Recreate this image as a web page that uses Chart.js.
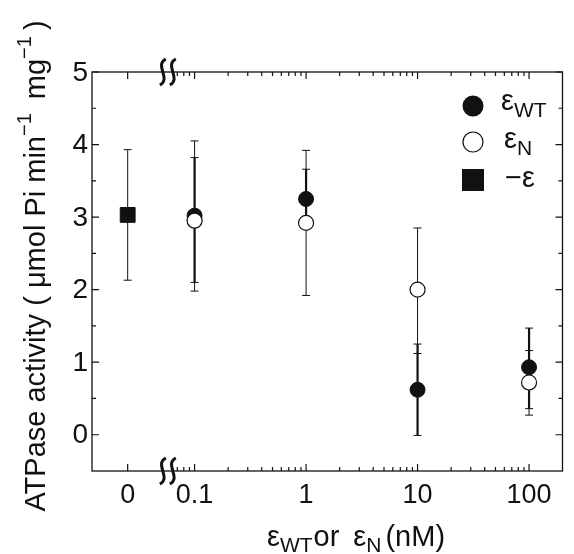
<!DOCTYPE html>
<html>
<head>
<meta charset="utf-8">
<script src="https://cdn.jsdelivr.net/npm/chart.js@4"></script>
<style>
  html, body { margin: 0; padding: 0; background: #fff; }
  canvas { display: block; }
</style>
</head>
<body>
<canvas id="myChart" width="574" height="554"></canvas>
<script>
// concentrations in nM, 0 means no epsilon added
const wtConc = [0.1, 1, 10, 100];
const wtMean = [3.02, 3.25, 0.62, 0.93];
const wtLow = [2.10, 2.84, -0.01, 0.36];
const wtHigh = [3.82, 3.66, 1.25, 1.47];

const nConc = [0.1, 1, 10, 100];
const nMean = [2.95, 2.92, 2.00, 0.72];
const nLow = [1.98, 1.92, 1.12, 0.27];
const nHigh = [4.05, 3.92, 2.85, 1.16];

const noEpsConc = [0];
const noEpsMean = [3.03];
const noEpsLow = [2.13];
const noEpsHigh = [3.93];

const xTickValues = [0, 0.1, 1, 10, 100];
const xTickLabels = ['0', '0.1', '1', '10', '100'];
const xMinorValues = [0.07, 0.08, 0.09,
    0.2, 0.3, 0.4, 0.5, 0.6, 0.7, 0.8, 0.9,
    2, 3, 4, 5, 6, 7, 8, 9,
    20, 30, 40, 50, 60, 70, 80, 90];
const yTickValues = [0, 1, 2, 3, 4, 5];
const yMinorValues = [0.5, 1.5, 2.5, 3.5, 4.5];

const ZERO_POS = -1.6;   // where "0" sits on the log axis
const BREAK_POS = -1.24;
const INK = '#111';
const FONT = '"Liberation Sans", Arial, Helvetica, sans-serif';

function toAxis(c) {
    return c === 0 ? ZERO_POS : Math.log10(c);
}

function points(conc, vals) {
    return conc.map((c, i) => ({ x: toAxis(c), y: vals[i] }));
}

const errorBars = [
    { conc: noEpsConc, low: noEpsLow, high: noEpsHigh, width: 1 },
    { conc: nConc, low: nLow, high: nHigh, width: 1 },
    { conc: wtConc, low: wtLow, high: wtHigh, width: 2.2 }
];

function drawText(ctx, parts, x, y) {
    // parts: [text, size, dy]
    parts.forEach(p => {
        ctx.font = p[1] + 'px ' + FONT;
        ctx.fillText(p[0], x, y + (p[2] || 0));
        x += ctx.measureText(p[0]).width + (p[3] || 0);
    });
    return x;
}

function textWidth(ctx, parts) {
    let w = 0;
    parts.forEach(p => {
        ctx.font = p[1] + 'px ' + FONT;
        w += ctx.measureText(p[0]).width + (p[3] || 0);
    });
    return w;
}

const errorBarPlugin = {
    id: 'errorBars',
    beforeDatasetsDraw(chart) {
        const ctx = chart.ctx;
        const xs = chart.scales.x, ys = chart.scales.y;
        ctx.save();
        ctx.strokeStyle = INK;
        errorBars.forEach(set => {
            set.conc.forEach((c, i) => {
                const px = xs.getPixelForValue(toAxis(c));
                const top = ys.getPixelForValue(set.high[i]);
                const bot = ys.getPixelForValue(set.low[i]);
                ctx.lineWidth = set.width;
                ctx.beginPath();
                ctx.moveTo(px, top);
                ctx.lineTo(px, bot);
                ctx.stroke();
                ctx.lineWidth = 1;
                ctx.beginPath();
                ctx.moveTo(px - 4, top); ctx.lineTo(px + 4, top);
                ctx.moveTo(px - 4, bot); ctx.lineTo(px + 4, bot);
                ctx.stroke();
            });
        });
        ctx.restore();
    }
};

const framePlugin = {
    id: 'frame',
    afterDraw(chart) {
        const ctx = chart.ctx;
        const a = chart.chartArea;
        const xs = chart.scales.x, ys = chart.scales.y;
        ctx.save();
        ctx.strokeStyle = INK;
        ctx.fillStyle = INK;

        ctx.lineWidth = 1.3;
        ctx.strokeRect(a.left, a.top, a.right - a.left, a.bottom - a.top);

        ctx.lineWidth = 1.2;
        ctx.beginPath();
        yTickValues.forEach(v => {
            const py = ys.getPixelForValue(v);
            ctx.moveTo(a.left, py); ctx.lineTo(a.left + 7, py);
            ctx.moveTo(a.right, py); ctx.lineTo(a.right - 7, py);
        });
        yMinorValues.forEach(v => {
            const py = ys.getPixelForValue(v);
            ctx.moveTo(a.left, py); ctx.lineTo(a.left + 4, py);
            ctx.moveTo(a.right, py); ctx.lineTo(a.right - 4, py);
        });
        xTickValues.forEach(v => {
            const px = xs.getPixelForValue(toAxis(v));
            ctx.moveTo(px, a.bottom); ctx.lineTo(px, a.bottom - 7);
            ctx.moveTo(px, a.top); ctx.lineTo(px, a.top + 7);
        });
        xMinorValues.forEach(v => {
            const px = xs.getPixelForValue(toAxis(v));
            ctx.moveTo(px, a.bottom); ctx.lineTo(px, a.bottom - 4);
            ctx.moveTo(px, a.top); ctx.lineTo(px, a.top + 4);
        });
        ctx.stroke();

        // axis break marks
        const bx = xs.getPixelForValue(BREAK_POS);
        ctx.lineWidth = 3;
        [a.top, a.bottom].forEach(by => {
            [-5, 5].forEach(off => {
                const cx = bx + off;
                ctx.beginPath();
                ctx.moveTo(cx + 3, by - 13);
                ctx.bezierCurveTo(cx - 9, by - 7, cx + 9, by + 7, cx - 3, by + 13);
                ctx.stroke();
            });
        });

        // tick labels
        ctx.font = '28px ' + FONT;
        ctx.textAlign = 'right';
        ctx.textBaseline = 'middle';
        yTickValues.forEach(v => {
            ctx.fillText(String(v), a.left - 4, ys.getPixelForValue(v) + 1);
        });
        ctx.font = '27px ' + FONT;
        ctx.textAlign = 'center';
        ctx.textBaseline = 'alphabetic';
        xTickValues.forEach((v, i) => {
            ctx.fillText(xTickLabels[i], xs.getPixelForValue(toAxis(v)), a.bottom + 32);
        });

        // x title
        ctx.textAlign = 'left';
        drawText(ctx, [['ε', 29], ['WT', 21, 6, 1], ['or', 29, 0, 14], ['ε', 29], ['N', 21, 6, 4], ['(nM)', 29]], 267, 546);

        // y title
        const yParts = [['ATPase activity ( μmol Pi min', 29], ['−1', 20, -14, 6], [' mg', 29], ['−1', 20, -14, 6], [')', 29]];
        ctx.save();
        ctx.translate(45, 266);
        ctx.rotate(-Math.PI / 2);
        const w = textWidth(ctx, yParts);
        drawText(ctx, yParts, -w / 2, 0);
        ctx.restore();

        // legend
        ctx.beginPath();
        ctx.arc(473, 106, 10.5, 0, Math.PI * 2);
        ctx.fill();
        ctx.lineWidth = 1.2;
        ctx.beginPath();
        ctx.arc(473, 142, 10, 0, Math.PI * 2);
        ctx.stroke();
        ctx.fillRect(462, 169, 22, 22);
        drawText(ctx, [['ε', 29], ['WT', 21, 7]], 501, 110);
        drawText(ctx, [['ε', 29], ['N', 21, 7]], 504, 148);
        drawText(ctx, [['−ε', 29]], 505, 187);

        ctx.restore();
    }
};

const ctx = document.getElementById('myChart').getContext('2d');
const myChart = new Chart(ctx, {
    type: 'scatter',
    data: {
        datasets: [{
            label: 'εN',
            data: points(nConc, nMean),
            pointStyle: 'circle',
            pointRadius: 7.5,
            backgroundColor: '#fff',
            borderColor: INK,
            borderWidth: 1.2,
            order: 0
        }, {
            label: 'εWT',
            data: points(wtConc, wtMean),
            pointStyle: 'circle',
            pointRadius: 7.5,
            backgroundColor: INK,
            borderColor: INK,
            borderWidth: 1,
            order: 1
        }, {
            label: '−ε',
            data: points(noEpsConc, noEpsMean),
            pointStyle: 'rect',
            pointRadius: 10.5,
            backgroundColor: INK,
            borderColor: INK,
            borderWidth: 1,
            order: 2
        }]
    },
    options: {
        responsive: false,
        animation: false,
        layout: { padding: { left: 92, right: 2, top: 72, bottom: 83 } },
        plugins: { legend: { display: false }, tooltip: { enabled: false } },
        scales: {
            x: { type: 'linear', display: false, min: -1.92, max: 2.3 },
            y: { type: 'linear', display: false, min: -0.5, max: 5 }
        }
    },
    plugins: [errorBarPlugin, framePlugin]
});
</script>
</body>
</html>
